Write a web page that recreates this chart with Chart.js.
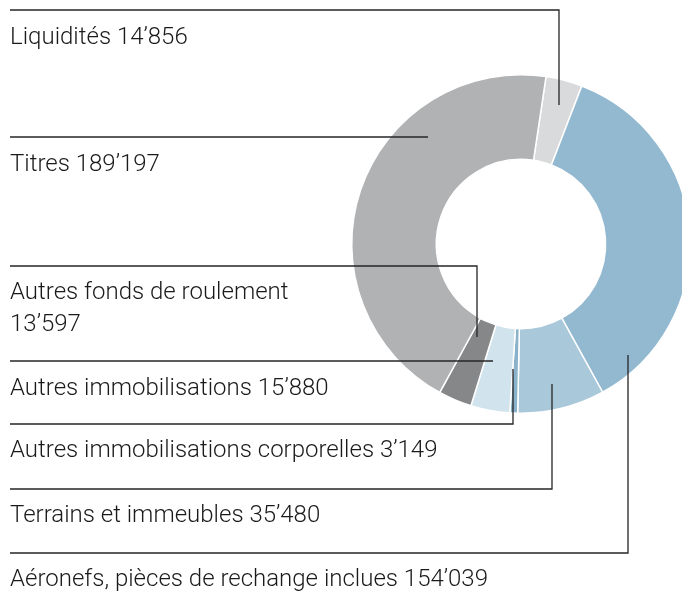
<!DOCTYPE html>
<html>
<head>
<meta charset="utf-8">
<style>
  html, body { margin: 0; padding: 0; background: #fff; overflow: hidden; }
  #wrap { position: absolute; left: 0; top: 0; width: 700px; height: 591px; }
</style>
<script src="https://cdn.jsdelivr.net/npm/chart.js@4"></script>
</head>
<body>
<div id="wrap"><canvas id="donut"></canvas></div>
<script>
// Catégories (ordre des segments dans le sens horaire)
const categories = [
  'Liquidités',
  'Aéronefs, pièces de rechange inclues',
  'Terrains et immeubles',
  'Autres immobilisations corporelles',
  'Autres immobilisations',
  'Autres fonds de roulement',
  'Titres'
];
const values = [14856, 154039, 35480, 3149, 15880, 13597, 189197];
const colors = ['#d9dadb', '#93b9d1', '#a9c8da', '#8ab3cb', '#d1e3ec', '#868789', '#b1b2b4'];

// Position des libellés et des traits de rappel (mise en page)
const leaders = [
  { y: 10,  x: 559, toY: 105, text: [44] },
  { y: 553, x: 628, toY: 355, text: [586] },
  { y: 489, x: 552, toY: 384, text: [522] },
  { y: 424, x: 513, toY: 369, text: [457] },
  { y: 361, x: 493, toY: null, text: [395] },
  { y: 266, x: 477, toY: 337, text: [299, 331] },
  { y: 137, x: 428, toY: null, text: [171] }
];

// 14856 -> 14’856
function fmt(v) {
  return String(v).replace(/\B(?=(\d{3})+(?!\d))/g, '\u2019');
}

const leaderPlugin = {
  id: 'leaders',
  afterDraw(chart) {
    const ctx = chart.ctx;
    ctx.save();
    ctx.strokeStyle = '#262626';
    ctx.lineWidth = 1.3;
    ctx.fillStyle = '#1a1a1a';
    ctx.font = '300 24px Roboto';
    ctx.textBaseline = 'alphabetic';
    categories.forEach((cat, i) => {
      const l = leaders[i];
      ctx.beginPath();
      ctx.moveTo(10, l.y);
      ctx.lineTo(l.x, l.y);
      if (l.toY !== null) ctx.lineTo(l.x, l.toY);
      ctx.stroke();
      if (l.text.length === 2) {
        ctx.fillText(cat, 10, l.text[0]);
        ctx.fillText(fmt(values[i]), 10, l.text[1]);
      } else {
        ctx.fillText(cat + ' ' + fmt(values[i]), 10, l.text[0]);
      }
    });
    ctx.restore();
  }
};

new Chart(document.getElementById('donut'), {
  type: 'doughnut',
  data: {
    labels: categories,
    datasets: [{
      data: values,
      backgroundColor: colors,
      borderColor: '#ffffff',
      borderWidth: 1.5,
      hoverOffset: 0
    }]
  },
  options: {
    responsive: true,
    maintainAspectRatio: false,
    animation: false,
    rotation: 8.5,
    cutout: '50%',
    layout: { padding: { left: 351, right: 9, top: 74, bottom: 177 } },
    plugins: {
      legend: { display: false },
      tooltip: { enabled: false }
    }
  },
  plugins: [leaderPlugin]
});
</script>
</body>
</html>
